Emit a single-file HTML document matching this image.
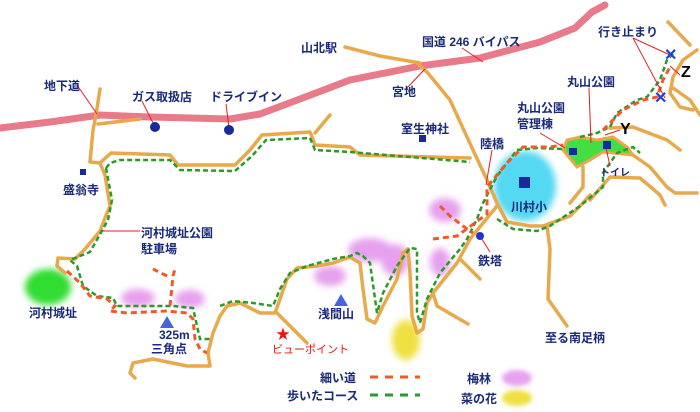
<!DOCTYPE html>
<html><head><meta charset="utf-8"><style>
body{margin:0;background:#fff}
svg{display:block}
text{font-family:"Liberation Sans","Noto Sans CJK JP",sans-serif;font-weight:bold;fill:#1a2a7a;font-size:12px}
</style></head><body>
<svg width="700" height="412" viewBox="0 0 700 412" xmlns="http://www.w3.org/2000/svg">
<defs>
<filter id="b" x="-50%" y="-50%" width="200%" height="200%"><feGaussianBlur stdDeviation="3.5"/></filter>
<filter id="b2" x="-50%" y="-50%" width="200%" height="200%"><feGaussianBlur stdDeviation="2.5"/></filter>
</defs>
<rect width="700" height="412" fill="#fff"/>
<g filter="url(#b)">
<ellipse cx="525" cy="186" rx="31" ry="35" fill="#55d8f2"/>
<ellipse cx="48" cy="287" rx="23" ry="18" fill="#33dd33"/>
<ellipse cx="138" cy="298" rx="17" ry="9" fill="#e6a0ee"/>
<ellipse cx="190" cy="299" rx="15" ry="9" fill="#e6a0ee"/>
<ellipse cx="445" cy="210" rx="16" ry="12" fill="#e6a0ee"/>
<ellipse cx="370" cy="250" rx="22" ry="12" fill="#e6a0ee"/>
<ellipse cx="330" cy="276" rx="16" ry="10" fill="#e6a0ee"/>
<ellipse cx="395" cy="260" rx="14" ry="16" fill="#e6a0ee"/>
<ellipse cx="440" cy="262" rx="10" ry="14" fill="#e6a0ee"/>
<ellipse cx="406" cy="340" rx="14" ry="20" fill="#eee040"/>
</g>
<g filter="url(#b2)">
<ellipse cx="517" cy="378" rx="15" ry="8" fill="#e6a0ee"/>
<ellipse cx="517" cy="398" rx="15" ry="8" fill="#eee040"/>
</g>
<path d="M563,150 L577,167 L590,160 L603,152 L633,155 L627,147 L613,137 L597,140 L580,137 L567,140 Z" fill="#44dd44" stroke="#e8a84c" stroke-width="3"/>
<path d="M0,128 L50,122 L100,115 L150,117 L230,119 L260,114 L300,99 L350,80 L420,66 L480,58 L540,42 L575,28 L592,12 L605,5" fill="none" stroke="#e87a8a" stroke-width="7" stroke-linecap="round" stroke-linejoin="round"/>
<g fill="none" stroke="#e8a84c" stroke-width="3.5" stroke-linecap="round" stroke-linejoin="round">
<path d="M100,89 L96,115 L93,130 L90,162 L100,163 L105,175 L110,206 L105,218 L100,231 L85,249 L75,259 L58,258 L57,266 L65,273"/>
<path d="M98,124 L140,119"/>
<path d="M100,163 L111,153 L170,155 L178,165 L235,165 L250,150 L262,135 L310,132 L315,145 L350,147 L360,155 L470,158"/>
<path d="M315,133 L330,115"/>
<path d="M345,47 L380,56 L420,63"/>
<path d="M418,64 L427,72 L450,100 L473,150 L487,180 L497,203 L507,222 L530,226 L543,226 L570,216 L580,206 L590,195"/>
<path d="M547,226 L550,249 L548,299 L567,326"/>
<path d="M497,206 L470,239 L457,263 L433,293 L427,303 L423,329 L417,333 L412,316 L410,273 L408,249 L403,253 L397,279 L383,306 L375,323 L367,319 L363,289 L360,263 L350,257 L333,263 L317,266 L297,268 L287,279 L280,299 L275,313 L260,313 L240,303 L227,306 L220,316 L213,333 L208,353 L210,366 L187,366 L153,359 L133,363 L130,373 L135,378"/>
<path d="M277,313 L307,343"/>
<path d="M433,293 L437,306 L468,324"/>
<path d="M460,259 L480,279"/>
<path d="M583,167 L583,187 L570,203"/>
<path d="M633,155 L650,167 L667,187 L675,193 L697,193"/>
<path d="M610,128 L633,127 L667,140 L680,150"/>
<path d="M590,200 L610,177 L640,178 L660,195 L665,205"/>
<path d="M697,50 L683,60 L673,77 L670,93 L680,107 L693,110"/>
<path d="M673,88 L690,100 L700,115"/>
<path d="M668,22 L690,45"/>
</g>
<g fill="none" stroke="#2a9a2a" stroke-width="2.5" stroke-dasharray="5,3">
<path d="M106,168 L110,163 L120,160 L170,160 L180,170 L235,171 L252,156 L266,140 L310,138 L315,150 L350,152 L470,162"/>
<path d="M106,168 L112,200 L108,220 L90,252 L70,260 L77,266 L83,286 L97,296 L113,298 L117,306 L173,306 L193,308 L197,326 L200,339 L210,339"/>
<path d="M220,306 L233,301 L253,303 L273,306 L280,289 L290,273 L307,266 L333,259 L350,256 L357,253 L363,256 L370,263 L377,313 L383,293 L397,266 L410,248 L417,249 L417,313 L420,323 L427,299 L440,273 L460,249 L467,239 L477,219 L483,203 L497,176 L517,150 L537,148 L563,149"/>
<path d="M580,137 L597,133 L610,127 L617,113 L637,100 L647,97 L660,80 L667,60 L675,52"/>
<path d="M497,219 L513,229 L537,231 L550,226 L580,206 L603,187 L603,173 L617,153 L633,147 L640,153"/>
</g>
<g fill="none" stroke="#f05a28" stroke-width="3" stroke-dasharray="6,4">
<path d="M67,271 L80,283 L90,296 L107,299 L115,306 L110,311 L127,313 L167,311 L187,313 L193,319 L195,339 L200,349 L207,353"/>
<path d="M170,306 L173,276 L175,269"/>
<path d="M167,276 L153,269"/>
<path d="M440,206 L450,216 L463,226 L473,233"/>
<path d="M433,239 L457,236 L487,214 L487,187 L507,163 L523,147 L550,147 L563,145"/>
<path d="M603,130 L623,110 L643,100 L657,97 L663,80 L670,67"/>
</g>
<line x1="370" y1="377" x2="420" y2="377" stroke="#f05a28" stroke-width="3" stroke-dasharray="8,7"/>
<line x1="370" y1="395" x2="420" y2="395" stroke="#2a9a2a" stroke-width="3" stroke-dasharray="8,7"/>
<g stroke="#e02020" stroke-width="1" fill="none">
<path d="M77,85 L97,114"/><path d="M142,101 L155,127"/><path d="M226,104 L229,128"/>
<path d="M407,88 L425,69"/><path d="M462,48 L483,62"/><path d="M633,38 L670,55"/><path d="M633,38 L665,98"/>
<path d="M589,88 L591,143"/><path d="M540,133 L565,148"/><path d="M492,150 L486,185"/>
<path d="M606,148 L610,166"/><path d="M102,231 L140,231"/><path d="M480,236 L490,252"/>
<path d="M620,130 L605,135"/><path d="M670,66 L680,75"/>
</g>
<g fill="#1a2a9a">
<circle cx="155" cy="127" r="5"/><circle cx="229" cy="130" r="5"/><circle cx="480" cy="236" r="4" fill="#2233cc"/>
<rect x="419" y="135" width="7" height="7"/><rect x="80" y="169" width="6" height="6"/>
<rect x="519" y="177" width="11" height="11"/><rect x="569" y="148" width="8" height="7"/><rect x="603" y="141" width="8" height="8"/>
</g>
<polygon points="160,328 174,328 167,316" fill="#4466dd"/>
<polygon points="334,306 348,306 341,294" fill="#4466dd"/>
<text x="664" y="60" style="fill:#2244cc;font-size:16px">✕</text>
<text x="654" y="103" style="fill:#2244cc;font-size:16px">✕</text>
<text x="276" y="339" style="fill:#ee1111;font-size:14px">★</text>
<text x="301" y="52">山北駅</text>
<text x="422" y="46">国道 246 バイパス</text>
<text x="598" y="36">行き止まり</text>
<text x="44" y="90">地下道</text>
<text x="132" y="101">ガス取扱店</text>
<text x="210" y="101">ドライブイン</text>
<text x="392" y="96">宮地</text>
<text x="401" y="133">室生神社</text>
<text x="567" y="86">丸山公園</text>
<text x="517" y="112">丸山公園</text>
<text x="517" y="128">管理棟</text>
<text x="480" y="148">陸橋</text>
<text x="511" y="211">川村小</text>
<text x="600" y="176" style="font-size:10px">トイレ</text>
<text x="63" y="194">盛翁寺</text>
<text x="141" y="237">河村城址公園</text>
<text x="141" y="253">駐車場</text>
<text x="29" y="317">河村城址</text>
<text x="159" y="339">325m</text>
<text x="151" y="353">三角点</text>
<text x="318" y="318">浅間山</text>
<text x="478" y="265">鉄塔</text>
<text x="272" y="353" style="fill:#ee1111;font-weight:normal;font-size:11px">ビューポイント</text>
<text x="545" y="342">至る南足柄</text>
<text x="320" y="382">細い道</text>
<text x="287" y="400">歩いたコース</text>
<text x="467" y="383">梅林</text>
<text x="461" y="403">菜の花</text>
<text x="620" y="134" style="fill:#000;font-size:16px">Y</text>
<text x="681" y="77" style="fill:#000;font-size:16px">Z</text>
</svg>
</body></html>
